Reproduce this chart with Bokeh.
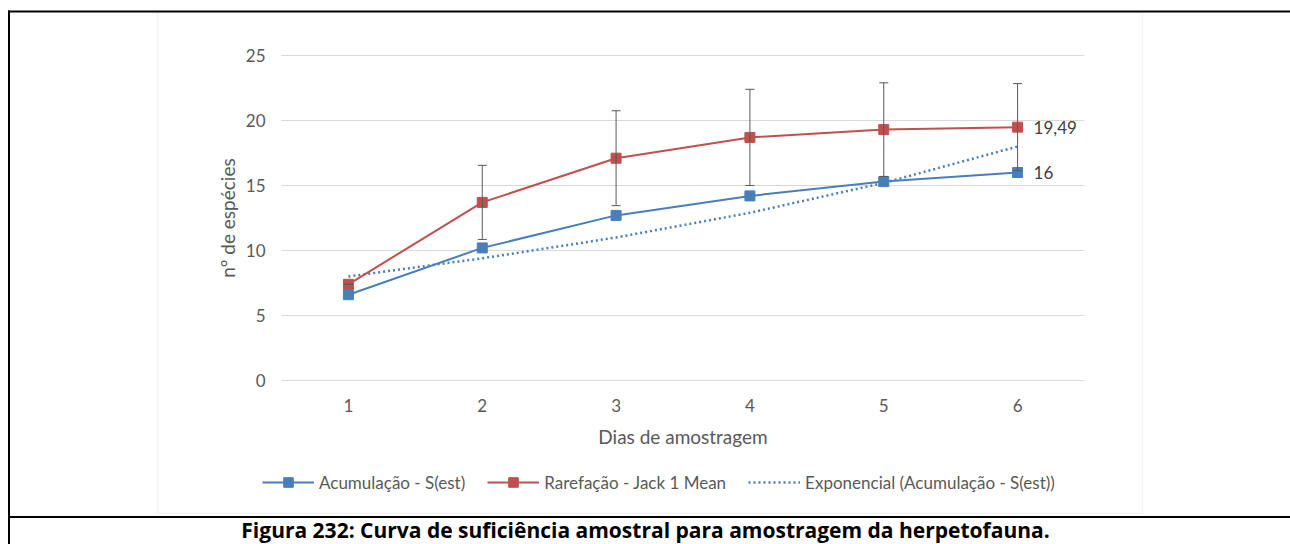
import math
from bokeh.plotting import figure
from bokeh.models import (Range1d, Legend, LegendItem, Whisker, TeeHead,
                          ColumnDataSource, BoxAnnotation, Label)
from bokeh.core.properties import value
from bokeh.embed import file_html
from bokeh.resources import INLINE

# ---- data ----
days = [1, 2, 3, 4, 5, 6]
acumulacao = [6.6, 10.2, 12.7, 14.2, 15.3, 16.0]
rarefacao = [7.4, 13.7, 17.1, 18.7, 19.3, 19.49]
rarefacao_err = [0.0, 2.85, 3.65, 3.7, 3.6, 3.35]
exponencial = [8.0, 9.4, 11.0, 12.9, 15.2, 18.0]
y_ticks = [0, 5, 10, 15, 20, 25]
series_names = ["Acumulação - S(est)", "Rarefação - Jack 1 Mean",
                "Exponencial (Acumulação - S(est))"]
x_title = "Dias de amostragem"
y_title = "nº de espécies"
caption = "Figura 232: Curva de suficiência amostral para amostragem da herpetofauna."

# ---- layout / style ----
FONT = "Lato"
BLUE = "#4A7EBB"
RED = "#C0504D"
GREY_TXT = "#595959"
GRID = "#D9D9D9"
W, H = 1290, 544
PX_L, PX_R = 281, 1084      # plot area left/right (px)
PY_T, PY_B = 55, 380        # plot area top/bottom (px)

x_lo, x_hi = days[0] - 0.5, days[-1] + 0.5
y_lo, y_hi = y_ticks[0], y_ticks[-1]
sx = (PX_R - PX_L) / (x_hi - x_lo)
sy = (PY_B - PY_T) / (y_hi - y_lo)
xr = Range1d(x_lo - PX_L / sx, x_hi + (W - PX_R) / sx)
yr = Range1d(y_lo - (H - PY_B) / sy, y_hi + PY_T / sy)

p = figure(width=W, height=H, output_backend="svg", toolbar_location=None,
           x_range=xr, y_range=yr, x_axis_type=None, y_axis_type=None,
           min_border=0)
p.outline_line_color = None
p.background_fill_color = "white"
p.border_fill_color = "white"

# page decorations: table lines and chart area border (canvas pixels)
def box(l, r, t, b, **kw):
    p.add_layout(BoxAnnotation(left=l, right=r, top=t, bottom=b,
                               left_units="canvas", right_units="canvas",
                               top_units="canvas", bottom_units="canvas", **kw))

box(157, 1142, 11.5, 513, fill_alpha=0, line_color=GRID, line_width=1.5)
box(7.5, 9.5, 10, 544, fill_color="black", fill_alpha=1, line_color=None)
box(7.5, 1290, 10, 12, fill_color="black", fill_alpha=1, line_color=None)
box(7.5, 1290, 515.5, 517.5, fill_color="black", fill_alpha=1, line_color=None)

# horizontal gridlines of the value axis
p.segment(x0=[x_lo] * len(y_ticks), x1=[x_hi] * len(y_ticks), y0=y_ticks, y1=y_ticks,
          line_color=GRID, line_width=1)

# tick labels
p.text(x=[x_lo] * len(y_ticks), y=y_ticks, text=[str(t) for t in y_ticks],
       x_offset=-16, text_align="right", text_baseline="middle",
       text_font=value(FONT), text_font_size="17px", text_color=GREY_TXT)
p.text(x=days, y=[y_lo] * len(days), text=[str(d) for d in days],
       y_offset=25, text_align="center", text_baseline="middle",
       text_font=value(FONT), text_font_size="17px", text_color=GREY_TXT)
# axis titles
p.text(x=[(x_lo + x_hi) / 2], y=[y_lo], text=[x_title], y_offset=56,
       text_align="center", text_baseline="middle",
       text_font=value(FONT), text_font_size="19px", text_color=GREY_TXT)
p.text(x=[x_lo], y=[(y_lo + y_hi) / 2], text=[y_title], x_offset=-54, angle=math.pi / 2,
       text_align="center", text_baseline="middle",
       text_font=value(FONT), text_font_size="19px", text_color=GREY_TXT)

# error bars on the Jack 1 series
upper = [v + e for v, e in zip(rarefacao, rarefacao_err)]
lower = [v - e for v, e in zip(rarefacao, rarefacao_err)]
err_src = ColumnDataSource(dict(x=days, upper=upper, lower=lower))
p.add_layout(Whisker(base="x", upper="upper", lower="lower", source=err_src,
                     line_color="#595959", line_width=1, level="glyph",
                     upper_head=TeeHead(size=9, line_color="#595959", line_width=1),
                     lower_head=TeeHead(size=9, line_color="#595959", line_width=1)))

# series
trend = p.line(days, exponencial, line_color=BLUE, line_width=2.5, line_dash="2 3")
l1 = p.line(days, acumulacao, line_color=BLUE, line_width=2)
m1 = p.scatter(days, acumulacao, marker="square", size=10, fill_color=BLUE, line_color=BLUE)
l2 = p.line(days, rarefacao, line_color=RED, line_width=2)
m2 = p.scatter(days, rarefacao, marker="square", size=10, fill_color=RED, line_color=RED)

# data labels on the last points
lab_y = [rarefacao[-1], acumulacao[-1]]
lab_txt = [f"{v:g}".replace(".", ",") for v in lab_y]
p.text(x=[days[-1], days[-1]], y=lab_y, text=lab_txt, x_offset=16,
       text_baseline="middle", text_align="left", text_font=value(FONT),
       text_font_size="17px", text_color="#404040")

legend = Legend(items=[LegendItem(label=series_names[0], renderers=[l1, m1]),
                       LegendItem(label=series_names[1], renderers=[l2, m2]),
                       LegendItem(label=series_names[2], renderers=[trend])],
                orientation="horizontal", location=(262, H - 494),
                glyph_width=52, glyph_height=24, label_standoff=5, spacing=22,
                padding=0, margin=0, border_line_color=None, background_fill_alpha=0,
                label_text_font=FONT, label_text_font_size="17px",
                label_text_color=GREY_TXT, label_height=24)
p.add_layout(legend, "center")

p.add_layout(Label(x=645, y=529, x_units="canvas", y_units="canvas", text=caption,
                   text_align="center", text_baseline="middle", text_font="Open Sans",
                   text_font_style="bold", text_font_size="21px", text_color="black"))

open("out.html", "w").write(file_html(p, INLINE))
